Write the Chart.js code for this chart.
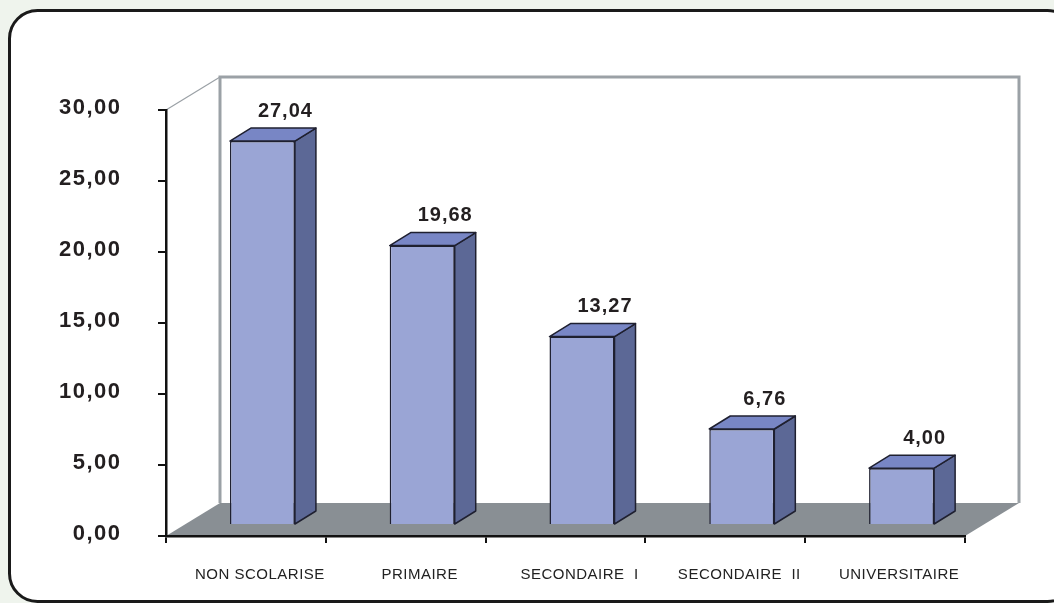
<!DOCTYPE html>
<html>
<head>
<meta charset="utf-8">
<script src="https://cdn.jsdelivr.net/npm/chart.js@4.4.1/dist/chart.umd.min.js"></script>
<style>
  html, body { margin: 0; padding: 0; background: #eff4ed; }
  #wrap { width: 1054px; height: 603px; }
  canvas { display: block; }
</style>
</head>
<body>
<div id="wrap"><canvas id="chart" width="1054" height="603"></canvas></div>
<script>
// Niveau d'instruction (%)
const categories = ['NON SCOLARISE', 'PRIMAIRE', 'SECONDAIRE  I', 'SECONDAIRE  II', 'UNIVERSITAIRE'];
const values = [27.04, 19.68, 13.27, 6.76, 4.00];
const yMin = 0;
const yMax = 30;
const yStep = 5;

const FONT = '"Liberation Sans", Arial, Helvetica, sans-serif';
const fmt = v => Number(v).toFixed(2).replace('.', ',');

// 3D look: depth of the room (wall/floor) and of each bar
const ROOM_DEPTH = { x: 54, y: -33 };
const BAR_SHIFT = { x: 16.5, y: -11 };
const BAR_DEPTH = { x: 21, y: -13 };

const scene3d = {
  id: 'scene3d',
  afterLayout(chart) {
    // extra letter spacing for the axis labels
    [['y', '1.5px'], ['x', '0.5px']].forEach(([id, sp]) => {
      const s = chart.scales[id];
      if (s && !s._spaced) {
        const orig = s.drawLabels;
        s.drawLabels = function (area) {
          const c = this.ctx;
          c.save();
          c.letterSpacing = sp;
          orig.call(this, area);
          c.restore();
        };
        s._spaced = true;
      }
    });
  },
  beforeDraw(chart) {
    const ctx = chart.ctx;
    const a = chart.chartArea;
    ctx.save();
    ctx.fillStyle = '#eff4ed';
    ctx.fillRect(0, 0, chart.width, chart.height);

    // rounded white frame
    ctx.beginPath();
    ctx.roundRect(9.5, 10.5, 1066, 591, 28);
    ctx.fillStyle = '#ffffff';
    ctx.fill();
    ctx.lineWidth = 3;
    ctx.strokeStyle = '#1a1a1a';
    ctx.stroke();

    const L = a.left + ROOM_DEPTH.x, R = a.right + ROOM_DEPTH.x;
    const T = a.top + ROOM_DEPTH.y, B = a.bottom + ROOM_DEPTH.y;

    // floor
    ctx.beginPath();
    ctx.moveTo(a.left, a.bottom);
    ctx.lineTo(L, B);
    ctx.lineTo(R, B);
    ctx.lineTo(a.right, a.bottom);
    ctx.closePath();
    ctx.fillStyle = '#898f94';
    ctx.fill();

    // back wall outline
    ctx.beginPath();
    ctx.moveTo(L, B);
    ctx.lineTo(L, T);
    ctx.lineTo(R, T);
    ctx.lineTo(R, B);
    ctx.strokeStyle = '#9ba1a6';
    ctx.lineWidth = 3;
    ctx.stroke();

    // top edge of the side wall
    ctx.beginPath();
    ctx.moveTo(a.left, a.top);
    ctx.lineTo(L, T);
    ctx.lineWidth = 1.2;
    ctx.stroke();
    ctx.restore();
  },
  beforeDatasetsDraw(chart) {
    chart.ctx.save();
    chart.ctx.translate(BAR_SHIFT.x, BAR_SHIFT.y);
  },
  afterDatasetsDraw(chart) {
    const ctx = chart.ctx;
    const meta = chart.getDatasetMeta(0);
    const ds = chart.data.datasets[0];
    meta.data.forEach((el, i) => {
      const { x, y, base, width } = el.getProps(['x', 'y', 'base', 'width'], true);
      const l = x - width / 2, r = x + width / 2;
      ctx.lineWidth = 1.5;
      ctx.strokeStyle = '#1f2030';
      ctx.lineJoin = 'round';
      // side face
      ctx.beginPath();
      ctx.moveTo(r, y);
      ctx.lineTo(r + BAR_DEPTH.x, y + BAR_DEPTH.y);
      ctx.lineTo(r + BAR_DEPTH.x, base + BAR_DEPTH.y);
      ctx.lineTo(r, base);
      ctx.closePath();
      ctx.fillStyle = '#5c6896';
      ctx.fill();
      ctx.stroke();
      // top face
      ctx.beginPath();
      ctx.moveTo(l, y);
      ctx.lineTo(l + BAR_DEPTH.x, y + BAR_DEPTH.y);
      ctx.lineTo(r + BAR_DEPTH.x, y + BAR_DEPTH.y);
      ctx.lineTo(r, y);
      ctx.closePath();
      ctx.fillStyle = '#7886c5';
      ctx.fill();
      ctx.stroke();
      // value label
      ctx.save();
      ctx.font = 'bold 20px ' + FONT;
      ctx.letterSpacing = '1px';
      ctx.fillStyle = '#231f20';
      ctx.textAlign = 'center';
      ctx.textBaseline = 'middle';
      ctx.fillText(fmt(ds.data[i]), x + 23, y - 30);
      ctx.restore();
    });
    ctx.restore();
  }
};

new Chart(document.getElementById('chart'), {
  type: 'bar',
  data: {
    labels: categories,
    datasets: [{
      data: values,
      backgroundColor: '#9aa5d5',
      borderColor: '#1f2030',
      borderWidth: 1.5,
      barPercentage: 0.407,
      categoryPercentage: 1,
      clip: false
    }]
  },
  options: {
    responsive: false,
    animation: false,
    layout: { padding: { top: 110, right: 89, bottom: 0, left: 0 } },
    plugins: { legend: { display: false }, tooltip: { enabled: false } },
    scales: {
      x: {
        type: 'category',
        offset: true,
        grid: { display: true, drawOnChartArea: false, drawTicks: true, tickLength: 7, offset: true, color: '#111', lineWidth: 2 },
        border: { display: true, color: '#111', width: 2.5 },
        ticks: { font: { family: FONT, size: 15 }, color: '#222', padding: 23, labelOffset: 14, maxRotation: 0, autoSkip: false },
        afterFit(s) { s.height = 67; }
      },
      y: {
        min: yMin,
        max: yMax,
        ticks: {
          stepSize: yStep,
          callback: v => fmt(v),
          font: { family: FONT, size: 22, weight: 'bold' },
          color: '#231f20',
          padding: 36.5,
          labelOffset: -2
        },
        grid: { drawOnChartArea: false, drawTicks: true, tickLength: 8, color: '#111', lineWidth: 2 },
        border: { display: true, color: '#111', width: 2.5 },
        afterFit(s) { s.width = 166; }
      }
    }
  },
  plugins: [scene3d]
});
</script>
</body>
</html>
